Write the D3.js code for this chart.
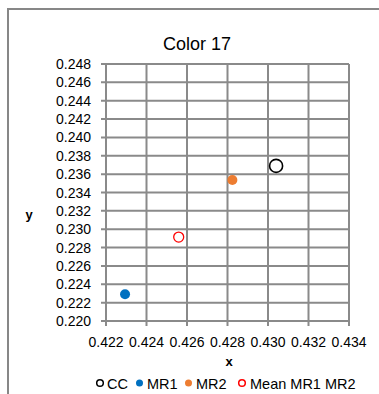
<!DOCTYPE html>
<html><head><meta charset="utf-8">
<script src="https://cdn.jsdelivr.net/npm/d3@7"></script>
<style>body{margin:0;background:#fff}svg{display:block}text{font-family:"Liberation Sans",Arial,sans-serif;fill:#000}</style>
</head><body><svg id="c" width="379" height="394"></svg>
<script>
const title = "Color 17";
const seriesNames = ["CC", "MR1", "MR2", "Mean MR1 MR2"];
const xValues = [0.4304, 0.42294, 0.42824, 0.42559];
const yValues = [0.2369, 0.22291, 0.23536, 0.22914];
const xTicks = [0.422, 0.424, 0.426, 0.428, 0.430, 0.432, 0.434];
const yTicks = [0.220,0.222,0.224,0.226,0.228,0.230,0.232,0.234,0.236,0.238,0.240,0.242,0.244,0.246,0.248];
const styles = [
  {fill:"none", stroke:"#000", r:6.5, lr:3.3, sw:1.6},
  {fill:"#0070C0", stroke:"none", r:5, lr:3.5, sw:0},
  {fill:"#ED7D31", stroke:"none", r:5, lr:3.5, sw:0},
  {fill:"none", stroke:"#FF0000", r:5, lr:3.3, sw:1.3}
];
const svg = d3.select("#c");
svg.append("path").attr("d","M8,394V9H379").attr("fill","none").attr("stroke","#878787").attr("stroke-width",2);
const x = d3.scaleLinear().domain([0.422,0.434]).range([106,349]);
const y = d3.scaleLinear().domain([0.220,0.248]).range([321,64]);
const grid = svg.append("g").attr("stroke","#8a8a8a").attr("stroke-width",2);
xTicks.forEach(t=>grid.append("line").attr("x1",x(t)).attr("x2",x(t)).attr("y1",y(0.248)).attr("y2",y(0.220)+5));
yTicks.forEach(t=>grid.append("line").attr("x1",x(0.422)-5).attr("x2",x(0.434)).attr("y1",y(t)).attr("y2",y(t)));
svg.append("g").selectAll("text").data(yTicks).join("text")
  .attr("x",91).attr("y",d=>y(d)).attr("dy","0.36em").attr("text-anchor","end").attr("font-size",14)
  .text(d=>d3.format(".3f")(d));
svg.append("g").selectAll("text").data(xTicks).join("text")
  .attr("x",d=>x(d)).attr("y",347).attr("text-anchor","middle").attr("font-size",14)
  .text(d=>d3.format(".3f")(d));
svg.append("text").attr("x",197).attr("y",50).attr("text-anchor","middle").attr("font-size",18).text(title);
svg.append("text").attr("x",229).attr("y",366).attr("text-anchor","middle").attr("font-size",13).attr("font-weight","bold").text("x");
svg.append("text").attr("x",29).attr("y",219).attr("text-anchor","middle").attr("font-size",13).attr("font-weight","bold").text("y");
svg.append("g").selectAll("circle").data(xValues.map((v,i)=>i)).join("circle")
  .attr("cx",i=>x(xValues[i])).attr("cy",i=>y(yValues[i])).attr("r",i=>styles[i].r)
  .attr("fill",i=>styles[i].fill).attr("stroke",i=>styles[i].stroke).attr("stroke-width",i=>styles[i].sw);
const legMarkX = [100, 139.5, 188.5, 242];
const legTextX = [107, 147, 196, 250];
const lg = svg.append("g");
seriesNames.forEach((n,i)=>{
  const s = styles[i];
  lg.append("circle").attr("cx",legMarkX[i]).attr("cy",383).attr("r",s.lr).attr("fill",s.fill).attr("stroke",s.stroke).attr("stroke-width",s.sw?1.5:0);
  lg.append("text").attr("x",legTextX[i]).attr("y",388.5).attr("font-size",14.5).text(n);
});
</script></body></html>
